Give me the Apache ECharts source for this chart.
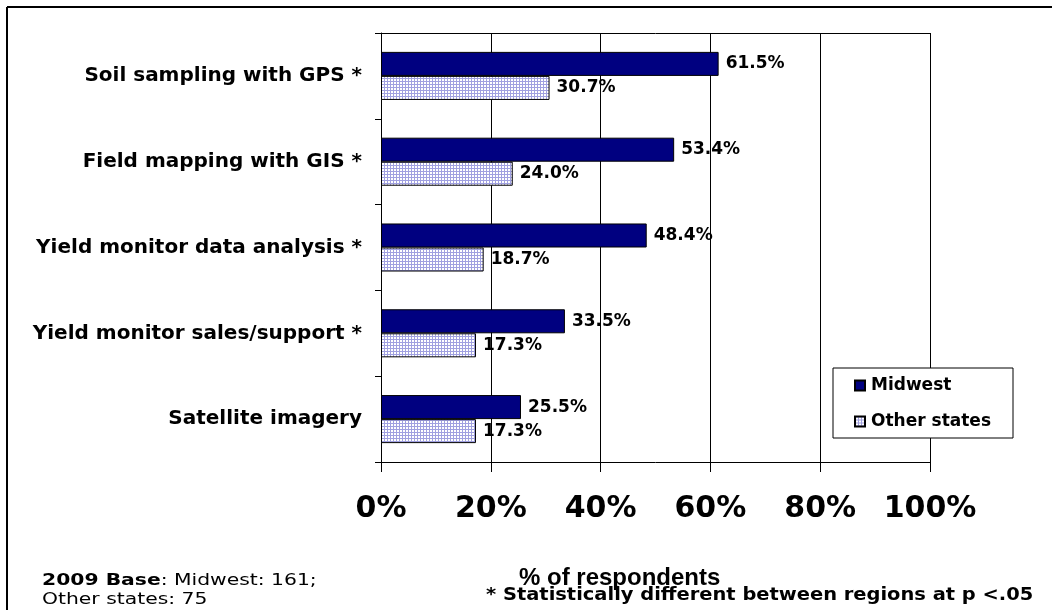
<!DOCTYPE html>
<html>
<head>
<meta charset="utf-8">
<script src="https://cdn.jsdelivr.net/npm/echarts@6/dist/echarts.min.js"></script>
<style>
html,body{margin:0;padding:0;background:#fff;}
#c{width:1052px;height:610px;}
</style>
</head>
<body>
<div id="c"></div>
<script>
var categories = ['Soil sampling with GPS *','Field mapping with GIS *','Yield monitor data analysis *','Yield monitor sales/support *','Satellite imagery'];
var midwest = [61.5, 53.4, 48.4, 33.5, 25.5];
var otherStates = [30.7, 24.0, 18.7, 17.3, 17.3];
var xTicks = [0, 20, 40, 60, 80, 100];

var FONT = '"DejaVu Sans", "Liberation Sans", Arial, sans-serif';
var FONT2 = '"Liberation Sans", Arial, sans-serif';

function makePattern() {
  var cv = document.createElement('canvas');
  cv.width = 3; cv.height = 3;
  var ctx = cv.getContext('2d');
  ctx.fillStyle = '#ffffff';
  ctx.fillRect(0, 0, 3, 3);
  ctx.fillStyle = '#a0a0e0';
  ctx.fillRect(0, 0, 3, 1);
  ctx.fillRect(0, 0, 1, 3);
  return cv;
}
var pattern = { image: makePattern(), repeat: 'repeat' };

var chart = echarts.init(document.getElementById('c'));
var valueLabel = {
  show: true, position: 'right', distance: 7,
  color: '#000', fontFamily: FONT, fontWeight: 'bold', fontSize: 17,
  formatter: function (p) { return p.value.toFixed(1) + '%'; }
};
chart.setOption({
  animation: false,
  backgroundColor: '#fff',
  textStyle: { fontFamily: FONT },
  grid: { left: 381, right: 122, top: 33, bottom: 148, containLabel: false },
  xAxis: [{
    type: 'value', min: xTicks[0], max: xTicks[xTicks.length - 1], interval: 20,
    position: 'bottom',
    axisLine: { show: true, lineStyle: { color: '#000', width: 1 } },
    axisTick: { show: true, length: 10, lineStyle: { color: '#000' } },
    axisLabel: { margin: 32, color: '#000', fontFamily: FONT, fontWeight: 'bold', fontSize: 30, formatter: '{value}%' },
    splitLine: { show: true, lineStyle: { color: '#000', width: 1 } }
  }, {
    type: 'value', min: xTicks[0], max: xTicks[xTicks.length - 1], interval: 20,
    position: 'top',
    axisLine: { show: true, lineStyle: { color: '#000', width: 1 } },
    axisTick: { show: false }, axisLabel: { show: false }, splitLine: { show: false }
  }],
  yAxis: {
    type: 'category', data: categories, inverse: true,
    axisLine: { show: true, lineStyle: { color: '#000', width: 1 } },
    axisTick: { show: true, length: 6, lineStyle: { color: '#000' } },
    axisLabel: { margin: 19, color: '#000', fontFamily: FONT, fontWeight: 'bold', fontSize: 20 }
  },
  legend: {
    orient: 'vertical', left: 833, top: 368,
    backgroundColor: '#fff', borderColor: '#000', borderWidth: 1, borderRadius: 0,
    padding: [9, 22, 8, 21], itemGap: 19, itemWidth: 10, itemHeight: 10, icon: 'rect',
    textStyle: { color: '#000', fontFamily: FONT, fontWeight: 'bold', fontSize: 17, padding: [0, 0, 0, 1] },
    data: ['Midwest', 'Other states']
  },
  series: [{
    name: 'Midwest', type: 'bar', data: midwest,
    barGap: '0%', barCategoryGap: '44%',
    itemStyle: { color: '#000080', borderColor: '#000', borderWidth: 1 },
    label: valueLabel
  }, {
    name: 'Other states', type: 'bar', data: otherStates,
    barGap: '0%', barCategoryGap: '44%',
    itemStyle: { color: pattern, borderColor: '#000', borderWidth: 1 },
    label: valueLabel
  }],
  graphic: [
    { type: 'line', shape: { x1: 7, y1: 7, x2: 1052, y2: 7 }, style: { stroke: '#000', lineWidth: 2 } },
    { type: 'line', shape: { x1: 7, y1: 7, x2: 7, y2: 610 }, style: { stroke: '#000', lineWidth: 2 } },
    { type: 'text', x: 519, y: 566, style: { text: '% of respondents', fill: '#000', font: 'bold 24px ' + FONT2 } },
    { type: 'text', x: 486, y: 586, scaleX: 1.08, style: { text: '* Statistically different between regions at p <.05', fill: '#000', font: 'bold 18px ' + FONT } },
    { type: 'text', x: 42, y: 571, scaleX: 1.27, style: {
      text: '{b|2009 Base}: Midwest: 161;\nOther states: 75',
      fill: '#000', font: '16px ' + FONT, lineHeight: 19,
      rich: { b: { fontWeight: 'bold', fontSize: 16, fontFamily: FONT, fill: '#000' } }
    } }
  ]
});
</script>
</body>
</html>
